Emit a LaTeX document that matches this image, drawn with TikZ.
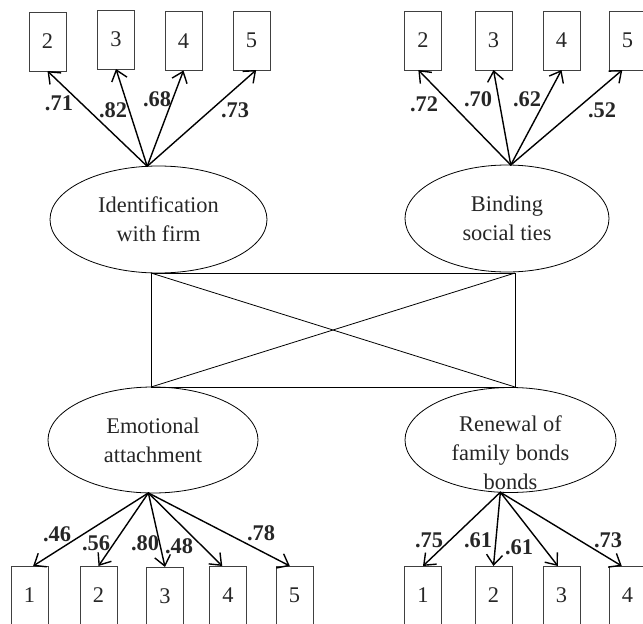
\documentclass[tikz,border=0pt]{standalone}
\usepackage{fontspec}
\setmainfont{Liberation Serif}
\usepackage{tikz}
\usepackage{xcolor}
\usetikzlibrary{arrows.meta,shapes.geometric}

\newcommand{\semfont}{\fontsize{22.4}{29}\selectfont}

\tikzset{
    latent/.style={ellipse, draw, line width=0.8pt, outer sep=0pt, inner sep=0pt, align=center, minimum height=107pt},
    item/.style={rectangle, draw=black!75, line width=0.8pt, outer sep=0pt, minimum width=37pt, minimum height=59pt},
    coef/.style={font=\semfont\bfseries},
    load/.style={-{Straight Barb[length=10pt,width=16pt]}, line width=1.4pt, line cap=round}
}

\begin{document}
\begin{tikzpicture}[x=1pt, y=-1pt, font=\semfont, text=black!85]
                \useasboundingbox (0,0) rectangle (643,624);
                \clip (0,0) rectangle (643,624);
                % factors
                \node[latent, minimum width=217pt] (idf) at (158.5,219.5) {Identification\\with firm};
                \node[latent, minimum width=204pt] (bst) at (507,218.5) {Binding\\social ties};
                \node[latent, minimum width=210pt, minimum height=106pt] (emo) at (153,440) {Emotional\\attachment};
                \node[latent, minimum width=211pt, minimum height=105pt,
                      label={[align=center, yshift=-13pt]center:Renewal of\\family bonds\\bonds}] (ren) at (510.5,440) {};
                % correlations
                \node[draw, line width=0.8pt, outer sep=0pt, minimum width=364pt, minimum height=114pt] (corr) at (333,330) {};
                \draw[line width=0.8pt] (corr.north west) -- (corr.south east);
                \draw[line width=0.8pt] (corr.south west) -- (corr.north east);
                % items of identification with firm
                \node[item] (i2) at (47.5,41.5) {2};
                \node[item] (i3) at (116,39.5) {3};
                \node[item] (i4) at (183.5,41) {4};
                \node[item] (i5) at (251.5,40.5) {5};
                \draw[load] (idf.102) -- (i2.south);
                \draw[load] (idf.102) -- (i3.south);
                \draw[load] (idf.102) -- (i4.south);
                \draw[load] (idf.102) -- (i5.-81);
                \node[coef] (ci2) at (59,103) {.71};
                \node[coef] (ci3) at (113,110) {.82};
                \node[coef] (ci4) at (157,99) {.68};
                \node[coef] (ci5) at (235,110) {.73};
                % items of binding social ties
                \node[item] (b2) at (423,40.5) {2};
                \node[item] (b3) at (493.5,40.5) {3};
                \node[item] (b4) at (561.5,40.5) {4};
                \node[item] (b5) at (627.5,40.5) {5};
                \draw[load] (bst.86) -- (b2.-99);
                \draw[load] (bst.86) -- (b3.south);
                \draw[load] (bst.86) -- (b4.south);
                \draw[load] (bst.86) -- (b5.-100);
                \node[coef] (cb2) at (424,104) {.72};
                \node[coef] (cb3) at (478,99) {.70};
                \node[coef] (cb4) at (527,99) {.62};
                \node[coef] (cb5) at (602,110) {.52};
                % items of emotional attachment
                \node[item] (e1) at (29.5,595.5) {1};
                \node[item] (e2) at (98.5,595.5) {2};
                \node[item] (e3) at (165,596.5) {3};
                \node[item] (e4) at (228,595.5) {4};
                \node[item] (e5) at (294.5,595.5) {5};
                \draw[load] (emo.265) -- (e1.83);
                \draw[load] (emo.265) -- (e2.north);
                \draw[load] (emo.265) -- (e3.north);
                \draw[load] (emo.265) -- (e4.101);
                \draw[load] (emo.265) -- (e5.99);
                \node[coef] (ce1) at (57,534) {.46};
                \node[coef] (ce2) at (96,543) {.56};
                \node[coef] (ce3) at (145,543) {.80};
                \node[coef] (ce4) at (179,546) {.48};
                \node[coef] (ce5) at (261,533) {.78};
                % items of renewal of family bonds
                \node[item] (r1) at (423,595.5) {1};
                \node[item] (r2) at (493.5,595.5) {2};
                \node[item] (r3) at (561.5,595.5) {3};
                \node[item] (r4) at (627.5,595.5) {4};
                \draw[load] (ren.259) -- (r1.north);
                \draw[load] (ren.259) -- (r2.north);
                \draw[load] (ren.259) -- (r3.97);
                \draw[load] (ren.259) -- (r4.101);
                \node[coef] (cr1) at (429,540) {.75};
                \node[coef] (cr2) at (478,540) {.61};
                \node[coef] (cr3) at (519,547) {.61};
                \node[coef] (cr4) at (608,540) {.73};
            \end{tikzpicture}
\end{document}
